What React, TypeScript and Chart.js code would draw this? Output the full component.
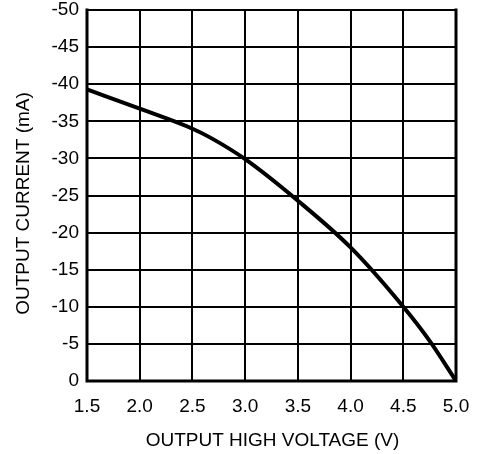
import React, { useEffect, useRef } from "react";
import { Chart, registerables } from "chart.js";

Chart.register(...registerables);

const voltage = [1.5, 2.0, 2.5, 2.67, 3.0, 3.5, 4.0, 4.5, 4.75, 5.0];
const current = [-39.3, -36.7, -34.0, -32.8, -29.9, -24.3, -18.0, -10.0, -5.4, 0];
const xTicks = [1.5, 2.0, 2.5, 3.0, 3.5, 4.0, 4.5, 5.0];
const yTicks = [0, -5, -10, -15, -20, -25, -30, -35, -40, -45, -50];
const xTitle = "OUTPUT HIGH VOLTAGE (V)";
const yTitle = "OUTPUT CURRENT (mA)";

const FONT = "'Liberation Sans', Arial, sans-serif";

export default function App() {
  const ref = useRef<HTMLCanvasElement | null>(null);
  useEffect(() => {
    if (!ref.current) return;
    const borderPlugin = {
      id: "borders",
      afterDraw(chart: any) {
        const { ctx, chartArea } = chart;
        ctx.save();
        ctx.strokeStyle = "#000";
        ctx.lineWidth = 3;
        ctx.lineCap = "square";
        ctx.beginPath();
        ctx.moveTo(chartArea.left, chartArea.top);
        ctx.lineTo(chartArea.left, chartArea.bottom);
        ctx.lineTo(chartArea.right, chartArea.bottom);
        ctx.lineTo(chartArea.right, chartArea.top);
        ctx.stroke();
        ctx.fillStyle = "#000";
        ctx.font = `19px ${FONT}`;
        ctx.textAlign = "center";
        ctx.textBaseline = "middle";
        const cx = (chartArea.left + chartArea.right) / 2 + 1;
        ctx.fillText(xTitle, cx, 441);
        ctx.translate(24, (chartArea.top + chartArea.bottom) / 2 + 8);
        ctx.rotate(-Math.PI / 2);
        ctx.fillText(yTitle, 0, 0);
        ctx.restore();
      },
    };
    const chart = new Chart(ref.current, {
      type: "scatter",
      data: {
        datasets: [
          {
            data: voltage.map((v, i) => ({ x: v, y: current[i] })),
            showLine: true,
            borderColor: "#000",
            borderWidth: 4,
            pointRadius: 0,
            cubicInterpolationMode: "monotone",
          },
        ],
      },
      options: {
        animation: false,
        responsive: false,
        devicePixelRatio: 1,
        layout: { padding: { top: 10, right: 24, left: 0, bottom: 0 } },
        plugins: { legend: { display: false }, tooltip: { enabled: false } },
        scales: {
          x: {
            type: "linear",
            min: 1.5,
            max: 5.0,
            afterBuildTicks: (s: any) => {
              s.ticks = xTicks.map((v) => ({ value: v }));
            },
            afterFit: (s: any) => {
              s.height = 73;
              s.paddingLeft = 0;
              s.paddingRight = 0;
            },
            ticks: {
              color: "#000",
              font: { family: FONT, size: 19 },
              padding: 14,
              callback: (v: any) => Number(v).toFixed(1),
              maxRotation: 0,
            },
            grid: { color: "#000", lineWidth: 2, drawTicks: false },
            border: { display: false },
          },
          y: {
            type: "linear",
            min: -50,
            max: 0,
            reverse: true,
            afterBuildTicks: (s: any) => {
              s.ticks = yTicks.map((v) => ({ value: v }));
            },
            afterFit: (s: any) => {
              s.width = 87;
              s.paddingTop = 0;
              s.paddingBottom = 0;
            },
            ticks: {
              color: "#000",
              font: { family: FONT, size: 19 },
              padding: 8,
            },
            grid: { color: "#000", lineWidth: 2, drawTicks: false },
            border: { display: false },
          },
        },
      },
      plugins: [borderPlugin],
    });
    return () => chart.destroy();
  }, []);
  return (
    <div style={{ position: "absolute", left: 0, top: 0, width: 480, height: 454, background: "#fff" }}>
      <canvas ref={ref} width={480} height={454} style={{ width: 480, height: 454 }} />
    </div>
  );
}
